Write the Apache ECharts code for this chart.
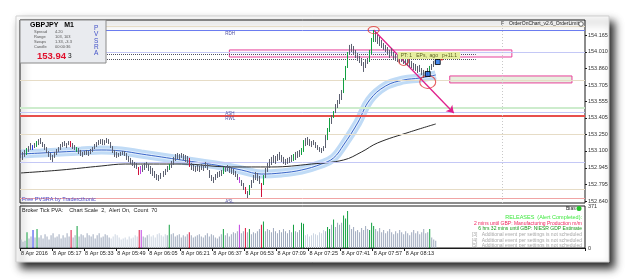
<!DOCTYPE html>
<html><head><meta charset="utf-8">
<script src="https://cdn.jsdelivr.net/npm/echarts@6/dist/echarts.min.js"></script>
<style>html,body{margin:0;padding:0;background:#fff}#c{width:625px;height:279px}</style>
</head><body><div id="c"></div>
<script>
// ---------------- DATA ----------------
const tickLabels = ['8 Apr 2016','8 Apr 05:17','8 Apr 05:33','8 Apr 05:49','8 Apr 06:05','8 Apr 06:21','8 Apr 06:37','8 Apr 06:53','8 Apr 07:09','8 Apr 07:25','8 Apr 07:41','8 Apr 07:57','8 Apr 08:13'];
const barsPerLabel = 16;
const nSlots = 282;
const highs = [153.109,153.091,153.109,153.127,153.145,153.173,153.154,153.173,153.191,153.209,153.219,153.182,153.164,153.136,153.099,153.081,153.063,153.091,153.118,153.136,153.164,153.182,153.191,153.173,153.191,153.191,153.173,153.154,153.136,153.127,153.109,153.091,153.099,153.109,153.099,153.118,153.136,153.164,153.182,153.200,153.209,153.209,153.200,153.219,153.209,153.182,153.145,153.109,153.091,153.081,153.091,153.099,153.099,153.081,153.054,153.036,153.017,152.999,152.990,152.953,152.962,152.971,152.990,152.999,152.981,152.962,152.944,152.916,152.888,152.879,152.898,152.916,152.935,152.962,152.981,153.008,153.045,153.072,153.081,153.072,153.081,153.072,153.063,153.054,153.036,152.990,152.971,152.962,152.971,152.962,152.981,152.971,152.999,152.981,152.925,152.879,152.861,152.888,152.907,152.916,152.925,152.953,152.962,152.971,152.962,152.953,152.935,152.916,152.888,152.861,152.833,152.806,152.769,152.732,152.787,152.833,152.879,152.907,152.898,152.870,152.806,152.879,152.944,152.990,153.026,153.045,153.063,153.054,153.072,153.091,153.063,153.045,153.026,153.036,153.045,153.063,153.072,153.091,153.099,153.109,153.127,153.200,153.219,153.228,153.209,153.191,153.200,153.182,153.154,153.136,153.127,153.145,153.246,153.311,153.403,153.430,153.467,153.531,153.568,153.623,153.660,153.770,153.881,154.009,154.074,154.083,154.064,154.028,154.000,153.973,153.954,153.917,153.936,153.954,154.028,154.138,154.211,154.193,154.165,154.147,154.120,154.092,154.074,154.055,154.028,154.046,154.009,153.991,153.982,153.973,153.982,153.954,153.963,153.945,153.936,153.927,153.908,153.899,153.881,153.890,153.862,153.844,153.835,153.862,153.881,153.899,153.927,153.936];
const lows = [153.036,153.017,153.045,153.063,153.091,153.109,153.109,153.127,153.136,153.154,153.164,153.136,153.109,153.081,153.045,153.017,152.999,153.036,153.063,153.091,153.109,153.136,153.145,153.127,153.154,153.136,153.118,153.109,153.091,153.072,153.054,153.045,153.063,153.063,153.054,153.072,153.091,153.118,153.136,153.154,153.164,153.154,153.154,153.173,153.164,153.127,153.081,153.045,153.036,153.045,153.054,153.063,153.054,153.017,152.999,152.981,152.962,152.944,152.935,152.879,152.888,152.907,152.925,152.944,152.916,152.888,152.870,152.852,152.833,152.824,152.843,152.861,152.879,152.907,152.925,152.944,152.971,153.008,153.026,153.017,153.036,153.017,152.999,152.990,152.953,152.925,152.916,152.907,152.916,152.907,152.925,152.916,152.944,152.925,152.852,152.824,152.806,152.833,152.852,152.861,152.870,152.888,152.907,152.916,152.898,152.888,152.879,152.861,152.833,152.806,152.778,152.741,152.704,152.668,152.695,152.760,152.806,152.833,152.824,152.797,152.677,152.787,152.852,152.907,152.944,152.971,152.990,152.981,153.008,153.017,152.999,152.981,152.971,152.981,152.990,152.999,153.008,153.017,153.036,153.045,153.063,153.091,153.145,153.154,153.145,153.136,153.154,153.127,153.109,153.091,153.081,153.099,153.127,153.200,153.274,153.348,153.403,153.448,153.494,153.531,153.568,153.632,153.752,153.862,153.982,154.009,153.991,153.954,153.927,153.908,153.881,153.826,153.862,153.899,153.917,153.991,154.101,154.101,154.083,154.064,154.046,154.028,154.009,153.982,153.954,153.973,153.945,153.927,153.917,153.908,153.917,153.899,153.890,153.881,153.871,153.862,153.844,153.835,153.816,153.826,153.798,153.770,153.780,153.789,153.816,153.844,153.871,153.899];
const vols = [74,56,65,140,84,102,158,93,167,93,112,84,121,102,74,112,130,93,102,121,84,112,93,130,102,158,93,112,195,102,121,112,93,130,112,102,121,84,112,130,93,102,121,112,93,84,102,121,112,93,74,84,93,74,102,84,93,112,102,158,158,102,93,112,121,102,112,93,121,130,112,102,121,112,205,121,130,102,112,121,93,112,102,121,140,112,93,102,112,121,102,93,112,130,102,121,112,93,84,102,121,167,112,130,102,121,140,130,149,205,130,149,177,140,167,121,140,130,149,167,205,233,149,167,158,140,177,149,130,158,140,167,149,130,158,140,205,149,140,158,223,214,112,121,102,112,130,121,112,140,130,158,149,186,167,205,251,186,223,205,223,288,260,326,205,167,186,149,158,140,177,158,195,167,158,223,195,167,149,177,140,158,130,149,167,140,121,149,130,158,140,121,149,130,112,140,158,130,149,121,140,167,130,140,167,93,74,65];
const greenIdx = [3,8,28,74,101,114,121,136,140,141,153,154,156,161,162,163,174,175,176,204];
const redIdx = [25,59,84,112,120];
const magentaIdx = [60,109];
const blueIdx = [6];
const lightIdx = [45,46,47,48,49,50,51,52,53,54,55,56,57,58,64,65,66,67,68,69,70,71,72,142,143,144,145,146,147,148,149,150,151];
const priceTicks = [154.165,154.010,153.860,153.705,153.555,153.405,153.250,153.100,152.945,152.795,152.640];
const volTicks = [0,371];
const volMax = 371;
const priceMin = 152.622, priceMax = 154.303;
// moving averages (bar index, price)
const maX = [0,10,20,30,40,50,60,70,80,90,100,110,120,130,140,150,156,161,168,174,182,191,199,207];
const maY = [153.072,153.081,153.091,153.100,153.109,153.100,153.072,153.045,153.017,152.990,152.962,152.925,152.888,152.898,152.925,152.980,153.036,153.155,153.357,153.568,153.697,153.752,153.770,153.798];
const slowX = [0,20,40,52,80,105,125,145,161,170,178,194,207];
const slowY = [152.898,152.925,152.962,152.980,152.980,152.953,152.953,152.980,153.017,153.091,153.174,153.274,153.348];
// horizontal levels
const tanLevels = [154.251,153.752,153.247,152.751];
const rdhLevel = 154.211;
const lavLevels = [154.010,153.458,152.999];
const greenLevel = 153.495;
const redLevel = 153.421;
const aslLevel = 152.668;
const dottedLevels = [153.991,153.940];
const lastPrice = 153.921;
const vLineIdx = 240;
const boxA = [[104,154.028],[245,153.963]];
const boxB = [[214,153.789],[275,153.725]];
const circlePts = [[176,154.211],[191,153.927],[203,153.734]];
const orderPts = [[203,153.807],[208,153.917]];
const trendLine = [[176,154.211],[216,153.449]];
const ptLabelAt = [188,153.977];
const redDotAt = [210,153.945];

// ---------------- CHART ----------------
const cats = Array.from({length:nSlots},(_,i)=>String(i));
const showTick = (idx)=> idx % barsPerLabel === 0 && idx / barsPerLabel < tickLabels.length;
const has = (arr,i)=>arr.indexOf(i)>=0;
function candleColor(i){
  if(has(greenIdx,i)) return '#12a040';
  if(has(redIdx,i)) return '#d0103a';
  if(has(magentaIdx,i)) return '#c040e0';
  if(has(blueIdx,i)) return '#2838e8';
  return '#5c6070';
}
function volColor(i){
  if(has(greenIdx,i)) return '#12a040';
  if(has(redIdx,i)) return '#dc143c';
  if(has(magentaIdx,i)) return '#c040e0';
  if(has(blueIdx,i)) return '#2838e8';
  if(has(lightIdx,i)) return '#ccd5e2';
  return '#9ea9bd';
}
const candleData = highs.map((h,i)=>{const c=candleColor(i);return {value:[lows[i],h,lows[i],h],itemStyle:{color:c,borderColor:c,color0:c,borderColor0:c}};});
const volData = vols.map((v,i)=>({value:v,itemStyle:{color:volColor(i)}}));
const FONT = 'Liberation Sans';

const hLines = [];
tanLevels.forEach(v=>hLines.push({yAxis:v,lineStyle:{color:'#e6dcc6',width:1,type:'solid'}}));
hLines.push({yAxis:rdhLevel,lineStyle:{color:'#6b7cf0',width:1,type:'solid'}});
lavLevels.forEach(v=>hLines.push({yAxis:v,lineStyle:{color:'#c4c8f6',width:1,type:'solid'}}));
hLines.push({yAxis:greenLevel,lineStyle:{color:'#cdeccd',width:2,type:'solid'}});
hLines.push({yAxis:redLevel,lineStyle:{color:'#e8504c',width:2,type:'solid'}});
hLines.push({yAxis:aslLevel,lineStyle:{color:'#f0a4a4',width:1,type:'solid'}});
dottedLevels.forEach(v=>hLines.push([{coord:[0,v]},{coord:[227,v]}]));
hLines.push({xAxis:vLineIdx,lineStyle:{color:'#c8c8c8',width:1,type:[1,2]}});

const chart = echarts.init(document.getElementById('c'),null,{renderer:'canvas'});
const option = {
  animation:false,
  backgroundColor:'#ffffff',
  grid:[
    {left:20,top:20,width:565,height:183,show:true,borderColor:'#1a1a1a',borderWidth:1,backgroundColor:'rgba(0,0,0,0)'},
    {left:20,top:206,width:565,height:42,show:true,borderColor:'#1a1a1a',borderWidth:1,backgroundColor:'rgba(0,0,0,0)'}
  ],
  xAxis:[
    {type:'category',gridIndex:0,data:cats,boundaryGap:true,axisLine:{show:false},axisTick:{show:false},axisLabel:{show:false},splitLine:{show:false}},
    {type:'category',gridIndex:1,data:cats,boundaryGap:true,axisLine:{show:true,lineStyle:{color:'#1a1a1a'}},
     axisTick:{show:true,interval:showTick,length:3,lineStyle:{color:'#1a1a1a'}},
     axisLabel:{interval:showTick,formatter:(v,idx)=>showTick(idx)?tickLabels[idx/barsPerLabel]:'',fontSize:5.5,color:'#222',align:'left',margin:2,fontFamily:FONT},
     splitLine:{show:false}}
  ],
  yAxis:[
    {type:'value',gridIndex:0,position:'right',min:priceMin,max:priceMax,axisLine:{show:false},splitLine:{show:false},
     axisTick:{show:true,customValues:priceTicks,length:2,lineStyle:{color:'#1a1a1a'}},
     axisLabel:{customValues:priceTicks,formatter:v=>v.toFixed(3),fontSize:5.5,color:'#333',margin:3,fontFamily:FONT}},
    {type:'value',gridIndex:1,position:'right',min:0,max:volMax,axisLine:{show:false},splitLine:{show:false},
     axisTick:{show:false},
     axisLabel:{customValues:volTicks,formatter:v=>String(v),fontSize:5.5,color:'#333',margin:3,fontFamily:FONT}}
  ],
  series:[
    {type:'line',name:'bandGlow',xAxisIndex:0,yAxisIndex:0,data:maX.map((x,i)=>[x,maY[i]]),smooth:0.4,symbol:'none',
     lineStyle:{width:9,color:'#c0dbf6'},z:2,silent:true,
     markLine:{silent:true,symbol:'none',label:{show:false},data:hLines,lineStyle:{color:'#505060',width:1,type:[1,1]}},
     markArea:{silent:true,data:[
       [{coord:boxA[0],itemStyle:{color:'rgba(240,220,240,0.25)',borderColor:'#e8409a',borderWidth:1}},{coord:boxA[1]}],
       [{coord:boxB[0],itemStyle:{color:'rgba(225,235,215,0.8)',borderColor:'#e8409a',borderWidth:1}},{coord:boxB[1]}]
     ]}},
    {type:'line',xAxisIndex:0,yAxisIndex:0,data:maX.map((x,i)=>[x,maY[i]]),smooth:0.4,symbol:'none',lineStyle:{width:3,color:'#e4f0fc'},z:3,silent:true},
    {type:'line',xAxisIndex:0,yAxisIndex:0,data:maX.map((x,i)=>[x,maY[i]]),smooth:0.4,symbol:'none',lineStyle:{width:1,color:'#3a66c8'},z:3,silent:true},
    {type:'line',xAxisIndex:0,yAxisIndex:0,data:slowX.map((x,i)=>[x,slowY[i]]),smooth:0.4,symbol:'none',lineStyle:{width:1,color:'#2a2a2a'},z:3,silent:true},
    {type:'candlestick',xAxisIndex:0,yAxisIndex:0,data:candleData,barWidth:1,itemStyle:{borderWidth:1},z:5,silent:true},
    {type:'scatter',xAxisIndex:0,yAxisIndex:0,data:circlePts.map((p,i)=>({value:p,symbolSize:[[11,7],[10,9],[16,13]][i]})),
     symbol:'circle',itemStyle:{color:'rgba(0,0,0,0)',borderColor:'#e03434',borderWidth:1},z:7,silent:true,
     markLine:{silent:true,symbol:'none',label:{show:false},data:[
       [{coord:trendLine[0],symbol:'none'},{coord:trendLine[1],symbol:'arrow',symbolSize:7}],
       {yAxis:lastPrice,lineStyle:{opacity:0},label:{show:true,position:'end',distance:2,formatter:()=>lastPrice.toFixed(3),backgroundColor:'#000',color:'#fff',fontSize:5.5,padding:[1,1],fontFamily:FONT}}
     ],lineStyle:{color:'#e0208c',width:1.3,type:'solid'}}},
    {type:'scatter',xAxisIndex:0,yAxisIndex:0,data:orderPts,symbol:'rect',symbolSize:5,itemStyle:{color:'#1a6ae8',borderColor:'#000',borderWidth:1},z:8,silent:true},
    {type:'scatter',xAxisIndex:0,yAxisIndex:0,data:[redDotAt],symbol:'circle',symbolSize:3,itemStyle:{color:'#e02020'},z:8,silent:true},
    {type:'bar',xAxisIndex:1,yAxisIndex:1,data:volData,barWidth:1,z:4,silent:true}
  ]
};
chart.setOption(option);

const px = (i,p)=>chart.convertToPixel({xAxisIndex:0,yAxisIndex:0},[i,p]);
const T = (id,x,y,text,style)=>({type:'text',id:id,x:x,y:y,z:60,silent:true,style:Object.assign({text:text,fontFamily:FONT,fontSize:5,fill:'#222'},style)});
const rdh = px(102,rdhLevel), ash = px(102,lavLevels[1]), rwl = px(102,redLevel), asl = px(102,aslLevel);
const ptl = px(ptLabelAt[0],ptLabelAt[1]);
const g = [
  {type:'rect',id:'frame',z:-10,silent:true,shape:{x:16,y:16,width:593,height:246},style:{fill:'#fff',stroke:'#cfcfcf',lineWidth:1,shadowBlur:8,shadowOffsetX:5,shadowOffsetY:6,shadowColor:'rgba(0,0,0,0.85)'}},
  {type:'rect',id:'info',z:50,silent:true,shape:{x:20,y:20,width:86,height:43},style:{fill:'#e9ebef',stroke:'#8a8a8a',lineWidth:1}},
  T('sym',30,22,'GBPJPY   M1',{fontSize:7,fontWeight:'bold',fill:'#000'}),
  T('r1a',34,30,'Spread',{fontSize:4,fill:'#555'}), T('r1b',55,30,'4.20',{fontSize:4,fill:'#555'}),
  T('r2a',34,35,'Range',{fontSize:4,fill:'#555'}), T('r2b',55,35,'103, 103',{fontSize:4,fill:'#555'}),
  T('r3a',34,40,'Swaps',{fontSize:4,fill:'#555'}), T('r3b',55,40,'1.33, -3.3',{fontSize:4,fill:'#555'}),
  T('r4a',34,45,'Candle',{fontSize:4,fill:'#555'}), T('r4b',55,45,'00:00:36',{fontSize:4,fill:'#555'}),
  T('bid',37,51,'153.94',{fontSize:9.5,fontWeight:'bold',fill:'#e0102c'}),
  T('bid2',68,53,'3',{fontSize:6.5,fill:'#111'}),
  T('pv',94,25,'P\nV\nS\nR\nA',{fontSize:6.5,fill:'#4050c8',lineHeight:6.3}),
  T('rdh',rdh[0],rdh[1]+1.5,'RDH',{fontSize:4.5,fill:'#5050a0'}),
  T('ash',ash[0],ash[1]-0.5,'ASH',{fontSize:4.5,fill:'#5050a0'}),
  T('rwl',rwl[0],rwl[1]+0.5,'RWL',{fontSize:4.5,fill:'#5050a0'}),
  T('asl',asl[0],asl[1]+1,'ASL',{fontSize:4.5,fill:'#5050a0'}),
  T('pt',ptl[0],ptl[1]-3.5,'PT: 1   EPs,  ago   p+11.1',{fontSize:5,fill:'#5a6020',backgroundColor:'#e6efa0',padding:[1,3,1,3]}),
  T('free',22,196,'Free PVSRA by Tradercthonic',{fontSize:5.5,fill:'#4848c8'}),
  T('hdr',22,207,'Broker Tick PVA:    Chart Scale  2,  Alert On,  Count  70',{fontSize:5.5,fill:'#222'}),
  T('ff',501,21.5,'F',{fontSize:5,fill:'#444'}),
  T('ooc',509,21.5,'OrderOnChart_v2.6_OrderLimit',{fontSize:5,fill:'#222'}),
  {type:'circle',id:'oocIcon',z:60,silent:true,shape:{cx:581,cy:24,r:2.3},style:{fill:'#fff',stroke:'#444',lineWidth:0.8}},
  T('bias',566,206,'Bias',{fontSize:5,fill:'#222'}),
  {type:'circle',id:'biasDot',z:60,silent:true,shape:{cx:579,cy:208.5,r:2.5},style:{fill:'#22c22a'}},
  T('rel',582,214.5,'RELEASES  (Alert Completed):',{fontSize:5.5,fill:'#3ee83e',align:'right'}),
  T('rel1',582,221.5,'2 mins until GBP: Manufacturing Production m/m',{fontSize:5,fill:'#f01f5a',align:'right'}),
  T('rel2',582,226.5,'6 hrs 32 mins until GBP: NIESR GDP Estimate',{fontSize:5,fill:'#1a9a1a',align:'right'}),
  T('rel3',582,232.5,'[3]   Additional event per settings is not scheduled',{fontSize:5,fill:'#a8a8a8',align:'right'}),
  T('rel4',582,238,'[4]   Additional event per settings is not scheduled',{fontSize:5,fill:'#a8a8a8',align:'right'}),
  T('rel5',582,243.5,'[5]   Additional event per settings is not scheduled',{fontSize:5,fill:'#a8a8a8',align:'right'})
];
chart.setOption({graphic:g});
</script></body></html>
